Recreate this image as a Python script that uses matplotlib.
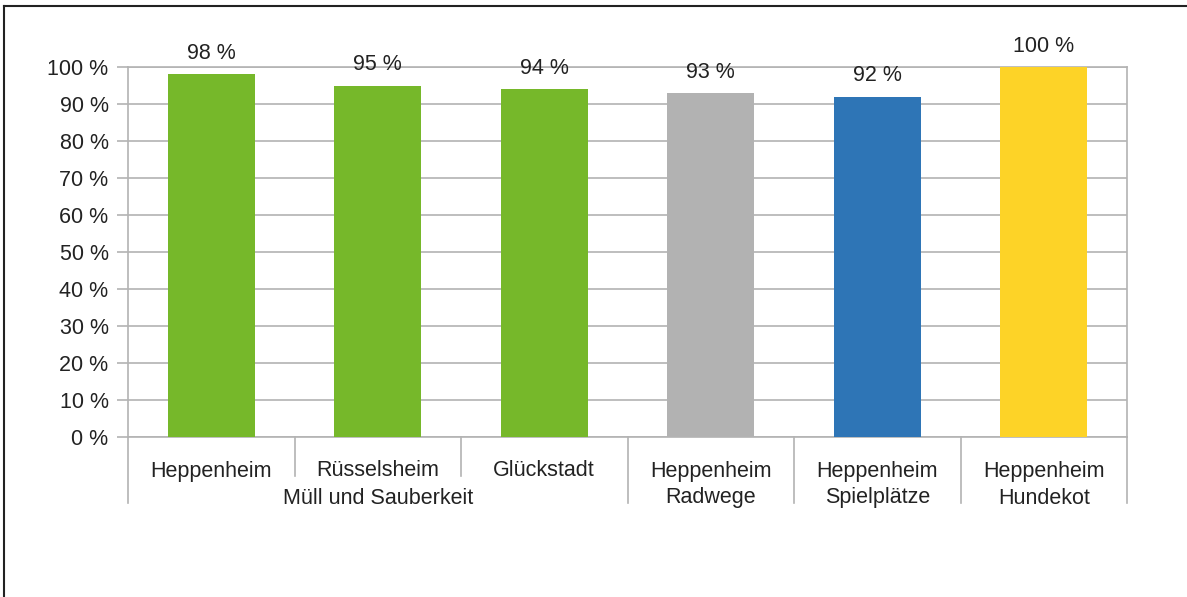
import matplotlib.pyplot as plt
from matplotlib.lines import Line2D
import matplotlib.transforms as mtransforms

plt.rcParams['font.family'] = ['Liberation Sans', 'DejaVu Sans']

# data
places = ['Heppenheim', 'Rüsselsheim', 'Glückstadt', 'Heppenheim', 'Heppenheim', 'Heppenheim']
topics = ['Müll und Sauberkeit', 'Müll und Sauberkeit', 'Müll und Sauberkeit', 'Radwege', 'Spielplätze', 'Hundekot']
values = [98, 95, 94, 93, 92, 100]
colors = ['#76b82a', '#76b82a', '#76b82a', '#b2b2b2', '#2e75b6', '#fdd327']

W, H = 1187, 597
FS = 15.5
TXT = '#222222'
fig = plt.figure(figsize=(W/100, H/100), dpi=100)
ax = fig.add_axes([128/W, 1-437/H, (1127-128)/W, (437-67)/H])

x = list(range(len(values)))
bars = ax.bar(x, values, width=0.52, color=colors, zorder=3)
for xi, v in zip(x, values):
    ax.annotate(f'{v} %', (xi, v), xytext=(0, 15), textcoords='offset points',
                ha='center', va='center', fontsize=FS, color=TXT)

ax.set_xlim(-0.5, len(values)-0.5)
ax.set_ylim(0, 100)
ax.set_yticks(range(0, 101, 10))
ax.set_yticklabels([f'{t} %' for t in range(0, 101, 10)], fontsize=FS, color=TXT)
ax.tick_params(axis='y', length=8, width=1.2, color='#b3b3b3', pad=6)
ax.set_xticks([])
ax.yaxis.grid(True, color='#b3b3b3', linewidth=1.2, zorder=0)
for s in ax.spines.values():
    s.set_color('#b3b3b3')
    s.set_linewidth(1.2)

# category separators and two-level labels
trans = mtransforms.blended_transform_factory(ax.transData, ax.transAxes)
ph = 437 - 67
for b in [i - 0.5 for i in range(len(values)+1)]:
    short = 0 < b < 2
    depth = 39 if short else 66
    ax.add_line(Line2D([b, b], [0, -depth/ph], transform=trans, color='#b3b3b3',
                       linewidth=1.2, clip_on=False))

for xi, p, t in zip(x, places, topics):
    ax.text(xi, -34/ph, p, transform=trans, ha='center', va='center', fontsize=FS, color=TXT)
    if t != 'Müll und Sauberkeit':
        ax.text(xi, -61/ph, t, transform=trans, ha='center', va='center', fontsize=FS, color=TXT)
grp = [xi for xi, t in zip(x, topics) if t == 'Müll und Sauberkeit']
ax.text(sum(grp)/len(grp), -61/ph, 'Müll und Sauberkeit', transform=trans,
        ha='center', va='center', fontsize=FS, color=TXT)

# outer frame
fig.add_artist(Line2D([4/W, 4/W], [0, 1-6/H], color=TXT, linewidth=1.5))
fig.add_artist(Line2D([4/W, 1], [1-6/H, 1-6/H], color=TXT, linewidth=1.5))

fig.savefig('out.png', dpi=100)
